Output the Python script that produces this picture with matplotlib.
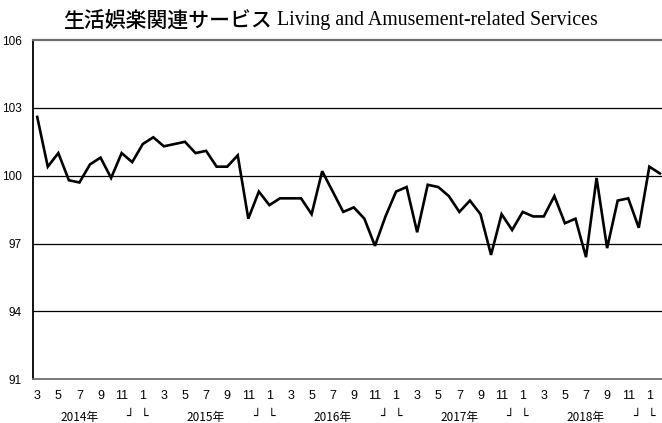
import matplotlib
matplotlib.use("Agg")
import matplotlib.pyplot as plt
import matplotlib.transforms as mtransforms

# monthly index, 2014-03 .. 2019-02
values = [
    102.6, 100.4, 101.0, 99.8, 99.7, 100.5, 100.8, 99.9, 101.0, 100.6,   # 2014
    101.4, 101.7, 101.3, 101.4, 101.5, 101.0, 101.1, 100.4, 100.4, 100.9, 98.1, 99.3,  # 2015
    98.7, 99.0, 99.0, 99.0, 98.3, 100.2, 99.3, 98.4, 98.6, 98.1, 96.9, 98.2,  # 2016
    99.3, 99.5, 97.5, 99.6, 99.5, 99.1, 98.4, 98.9, 98.3, 96.5, 98.3, 97.6,  # 2017
    98.4, 98.2, 98.2, 99.1, 97.9, 98.1, 96.4, 99.9, 96.8, 98.9, 99.0, 97.7,  # 2018
    100.4, 100.1,  # 2019
]
month_labels = ["3", "5", "7", "9", "11",
                "1", "3", "5", "7", "9", "11",
                "1", "3", "5", "7", "9", "11",
                "1", "3", "5", "7", "9", "11",
                "1", "3", "5", "7", "9", "11",
                "1"]
year_labels = ["2014年", "2015年", "2016年", "2017年", "2018年"]
year_pos = [4, 16, 28, 40, 52]          # July of each year
dec_pos = [9, 21, 33, 45, 57]           # December of each year
yticks = [91, 94, 97, 100, 103, 106]

tick_font = ["Liberation Sans Narrow", "Liberation Sans", "DejaVu Sans"]
cjk_font = ["Noto Sans CJK JP", "DejaVu Sans"]

fig = plt.figure(figsize=(6.62, 4.23), dpi=100)
ax = fig.add_axes([33 / 662, 1 - 379.3 / 423, 629 / 662, (379.3 - 40) / 423])

x = list(range(len(values)))
ax.plot(x, values, color="black", linewidth=1.9, solid_joinstyle="miter", zorder=3)

ax.set_xlim(-0.4, 59.2)
ax.set_ylim(91, 106)

for g in [94, 97, 100, 103]:
    ax.axhline(g, color="black", linewidth=0.9, zorder=1)

ax.spines["right"].set_visible(False)
ax.spines["left"].set_color("black")
ax.spines["left"].set_linewidth(1.3)
ax.spines["top"].set_color("#6e6e6e")
ax.spines["top"].set_linewidth(1.6)
ax.spines["bottom"].set_color("#6e6e6e")
ax.spines["bottom"].set_linewidth(1.3)

ax.set_yticks(yticks)
ax.set_yticklabels([str(v) for v in yticks], family=tick_font, fontsize=8.5)
ax.set_xticks(list(range(0, len(values), 2)))
ax.set_xticklabels(month_labels, family=tick_font, fontsize=9)
ax.tick_params(axis="y", length=0, pad=8)
ax.tick_params(axis="x", length=0, pad=8)

trans = mtransforms.blended_transform_factory(ax.transData, ax.transAxes)
for lab, p in zip(year_labels, year_pos):
    ax.text(p, -0.112, lab, transform=trans, ha="center", va="center",
            fontsize=8.5, family=cjk_font, clip_on=False)
for p in dec_pos:
    ax.text(p - 0.2, -0.108, "\u2518", transform=trans, ha="center", va="center",
            fontsize=9, family=["DejaVu Sans"], clip_on=False)
    ax.text(p + 1.2, -0.108, "\u2514", transform=trans, ha="center", va="center",
            fontsize=9, family=["DejaVu Sans"], clip_on=False)

ty = 1 - 21 / 423
fig.text(272 / 662, ty, "生活娯楽関連サービス", ha="right", va="center",
         fontsize=15, family=cjk_font, weight="medium")
fig.text(277 / 662, ty, "Living and Amusement-related Services", ha="left",
         va="center", fontsize=14.3, family=["Liberation Serif", "DejaVu Serif"])

fig.savefig("out.png", dpi=100)
